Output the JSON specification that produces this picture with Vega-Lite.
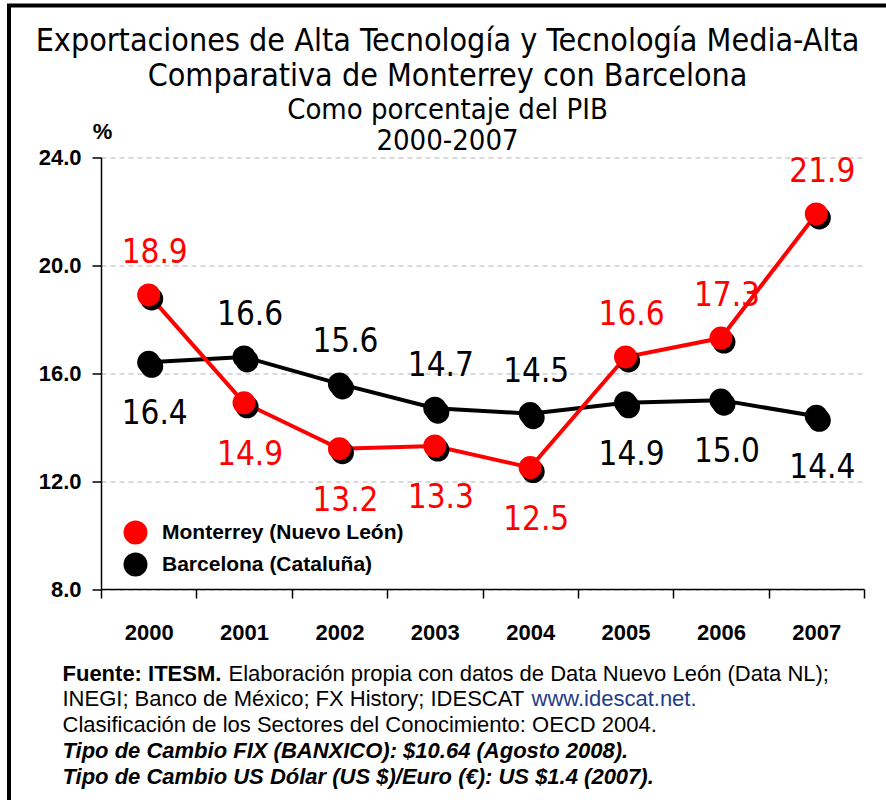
{
  "$schema": "https://vega.github.io/schema/vega-lite/v6.json",
  "width": 877,
  "height": 794.5,
  "autosize": {"type": "none"},
  "padding": {"left": 9, "top": 5.5, "right": 0, "bottom": 0},
  "background": "white",
  "title": {
    "text": ["Exportaciones de Alta Tecnología y Tecnología Media-Alta", "Comparativa de Monterrey con Barcelona"],
    "subtitle": ["Como porcentaje del PIB", "2000-2007"],
    "font": "DejaVu Sans Condensed, sans-serif",
    "fontSize": 32,
    "fontWeight": "normal",
    "lineHeight": 35,
    "color": "black",
    "subtitleFont": "DejaVu Sans Condensed, sans-serif",
    "subtitleFontSize": 29,
    "subtitleLineHeight": 31,
    "subtitleColor": "black",
    "subtitlePadding": 3,
    "anchor": "middle",
    "frame": "group",
    "orient": "top",
    "offset": -151
  },
  "data": {
    "values": [
      {"year": "2000", "series": "Barcelona (Cataluña)", "value": 16.4},
      {"year": "2001", "series": "Barcelona (Cataluña)", "value": 16.6},
      {"year": "2002", "series": "Barcelona (Cataluña)", "value": 15.6},
      {"year": "2003", "series": "Barcelona (Cataluña)", "value": 14.7},
      {"year": "2004", "series": "Barcelona (Cataluña)", "value": 14.5},
      {"year": "2005", "series": "Barcelona (Cataluña)", "value": 14.9},
      {"year": "2006", "series": "Barcelona (Cataluña)", "value": 15.0},
      {"year": "2007", "series": "Barcelona (Cataluña)", "value": 14.4},
      {"year": "2000", "series": "Monterrey (Nuevo León)", "value": 18.9},
      {"year": "2001", "series": "Monterrey (Nuevo León)", "value": 14.9},
      {"year": "2002", "series": "Monterrey (Nuevo León)", "value": 13.2},
      {"year": "2003", "series": "Monterrey (Nuevo León)", "value": 13.3},
      {"year": "2004", "series": "Monterrey (Nuevo León)", "value": 12.5},
      {"year": "2005", "series": "Monterrey (Nuevo León)", "value": 16.6},
      {"year": "2006", "series": "Monterrey (Nuevo León)", "value": 17.3},
      {"year": "2007", "series": "Monterrey (Nuevo León)", "value": 21.9}
    ]
  },
  "resolve": {"axis": {"x": "independent"}},
  "layer": [
    {
      "mark": {"type": "line", "strokeWidth": 4},
      "encoding": {
        "x": {
          "field": "year", "type": "ordinal",
          "scale": {"type": "band", "range": [92, 855], "paddingInner": 0, "paddingOuter": 0},
          "axis": {
            "orient": "bottom", "offset": -211, "tickBand": "extent",
            "labelAngle": 0, "labelFont": "Liberation Sans", "labelFontWeight": "bold", "labelFontSize": 22, "labelColor": "black", "labelPadding": 24,
            "tickSize": 9, "tickWidth": 1.5, "tickColor": "black",
            "domainColor": "black", "domainWidth": 1.5, "grid": false,
            "title": "Fuente: ITESM.", "titleFont": "Liberation Sans", "titleFontWeight": "bold", "titleFontSize": 22, "titleColor": "black",
            "titleX": 53, "titleY": 91, "titleAlign": "left", "titleBaseline": "alphabetic", "titleAngle": 0
          }
        },
        "y": {
          "field": "value", "type": "quantitative",
          "scale": {"domain": [8, 24], "range": [583.5, 151.8], "nice": false, "zero": false},
          "axis": {
            "orient": "left", "offset": -92, "values": [8, 12, 16, 20, 24], "format": ".1f",
            "labelFont": "Liberation Sans", "labelFontWeight": "bold", "labelFontSize": 22, "labelColor": "black", "labelPadding": 11,
            "tickSize": 9, "tickWidth": 1.5, "tickColor": "black",
            "domainColor": "black", "domainWidth": 1.5,
            "grid": true, "gridDash": [5, 4], "gridColor": "#b3b3b3", "gridWidth": 1,
            "title": "%", "titleAngle": 0, "titleX": 1, "titleY": 133, "titleAlign": "center", "titleBaseline": "alphabetic",
            "titleFont": "Liberation Sans", "titleFontWeight": "bold", "titleFontSize": 22, "titleColor": "black"
          }
        },
        "stroke": {
          "field": "series", "type": "nominal",
          "scale": {"domain": ["Barcelona (Cataluña)", "Monterrey (Nuevo León)"], "range": ["#000000", "#ff0000"]},
          "legend": null
        }
      }
    },
    {
      "mark": {"type": "circle", "size": 530, "opacity": 1, "color": "black", "xOffset": 3, "yOffset": 4},
      "encoding": {
        "x": {
          "field": "year", "type": "ordinal",
          "axis": {
            "orient": "bottom", "offset": -211, "labels": false, "ticks": false, "domain": false, "grid": false,
            "title": "Elaboración propia con datos de Data Nuevo León (Data NL);", "titleFont": "Liberation Sans", "titleFontWeight": "normal", "titleFontSize": 22, "titleColor": "black",
            "titleX": 219, "titleY": 91, "titleAlign": "left", "titleBaseline": "alphabetic", "titleAngle": 0
          }
        },
        "y": {"field": "value", "type": "quantitative"}
      }
    },
    {
      "mark": {"type": "circle", "size": 530, "opacity": 1},
      "encoding": {
        "x": {
          "field": "year", "type": "ordinal",
          "axis": {
            "orient": "bottom", "offset": -211, "labels": false, "ticks": false, "domain": false, "grid": false,
            "title": ["INEGI; Banco de México; FX History; IDESCAT", "Clasificación de los Sectores del Conocimiento: OECD 2004."],
            "titleFont": "Liberation Sans", "titleFontWeight": "normal", "titleFontSize": 22, "titleColor": "black", "titleLineHeight": 25.7,
            "titleX": 53, "titleY": 116.7, "titleAlign": "left", "titleBaseline": "alphabetic", "titleAngle": 0
          }
        },
        "y": {"field": "value", "type": "quantitative"},
        "color": {
          "field": "series", "type": "nominal",
          "scale": {"domain": ["Monterrey (Nuevo León)", "Barcelona (Cataluña)"], "range": ["#ff0000", "#000000"]},
          "legend": {
            "orient": "none", "legendX": 114.5, "legendY": 515, "title": null, "padding": 0,
            "labelFont": "Liberation Sans", "labelFontWeight": "bold", "labelFontSize": 21, "labelColor": "black", "labelLimit": 500,
            "symbolType": "circle", "symbolSize": 573, "symbolStrokeWidth": 0, "symbolOpacity": 1,
            "labelOffset": 14.5, "rowPadding": 8
          }
        }
      }
    },
    {
      "transform": [{"filter": "(datum.series == 'Monterrey (Nuevo León)') == (indexof(['2000', '2005', '2006', '2007'], datum.year) >= 0)"}],
      "mark": {"type": "text", "font": "DejaVu Sans Condensed, sans-serif", "fontSize": 33, "baseline": "middle", "align": "center", "dx": 6, "dy": -42},
      "encoding": {
        "x": {
          "field": "year", "type": "ordinal",
          "axis": {
            "orient": "bottom", "offset": -211, "labels": false, "ticks": false, "domain": false, "grid": false,
            "title": "www.idescat.net.", "titleFont": "Liberation Sans", "titleFontWeight": "normal", "titleFontSize": 22, "titleColor": "#1f3c88",
            "titleX": 522, "titleY": 116.7, "titleAlign": "left", "titleBaseline": "alphabetic", "titleAngle": 0
          }
        },
        "y": {"field": "value", "type": "quantitative"},
        "text": {"field": "value", "type": "quantitative", "format": ".1f"},
        "fill": {
          "field": "series", "type": "nominal",
          "scale": {"domain": ["Barcelona (Cataluña)", "Monterrey (Nuevo León)"], "range": ["#000000", "#ff0000"]},
          "legend": null
        }
      }
    },
    {
      "transform": [{"filter": "(datum.series == 'Monterrey (Nuevo León)') != (indexof(['2000', '2005', '2006', '2007'], datum.year) >= 0)"}],
      "mark": {"type": "text", "font": "DejaVu Sans Condensed, sans-serif", "fontSize": 33, "baseline": "middle", "align": "center", "dx": 6, "dy": 52},
      "encoding": {
        "x": {
          "field": "year", "type": "ordinal",
          "axis": {
            "orient": "bottom", "offset": -211, "labels": false, "ticks": false, "domain": false, "grid": false,
            "title": ["Tipo de Cambio FIX (BANXICO): $10.64 (Agosto 2008).", "Tipo de Cambio US Dólar (US $)/Euro (€): US $1.4 (2007)."],
            "titleFont": "Liberation Sans", "titleFontWeight": "bold", "titleFontStyle": "italic", "titleFontSize": 22, "titleColor": "black", "titleLineHeight": 26,
            "titleX": 53, "titleY": 168, "titleAlign": "left", "titleBaseline": "alphabetic", "titleAngle": 0
          }
        },
        "y": {"field": "value", "type": "quantitative"},
        "text": {"field": "value", "type": "quantitative", "format": ".1f"},
        "fill": {"field": "series", "type": "nominal", "legend": null}
      }
    }
  ],
  "config": {
    "view": {"stroke": "black", "strokeWidth": 4, "strokeDash": [877, 1671.5, 794.5]},
    "font": "Liberation Sans"
  }
}
